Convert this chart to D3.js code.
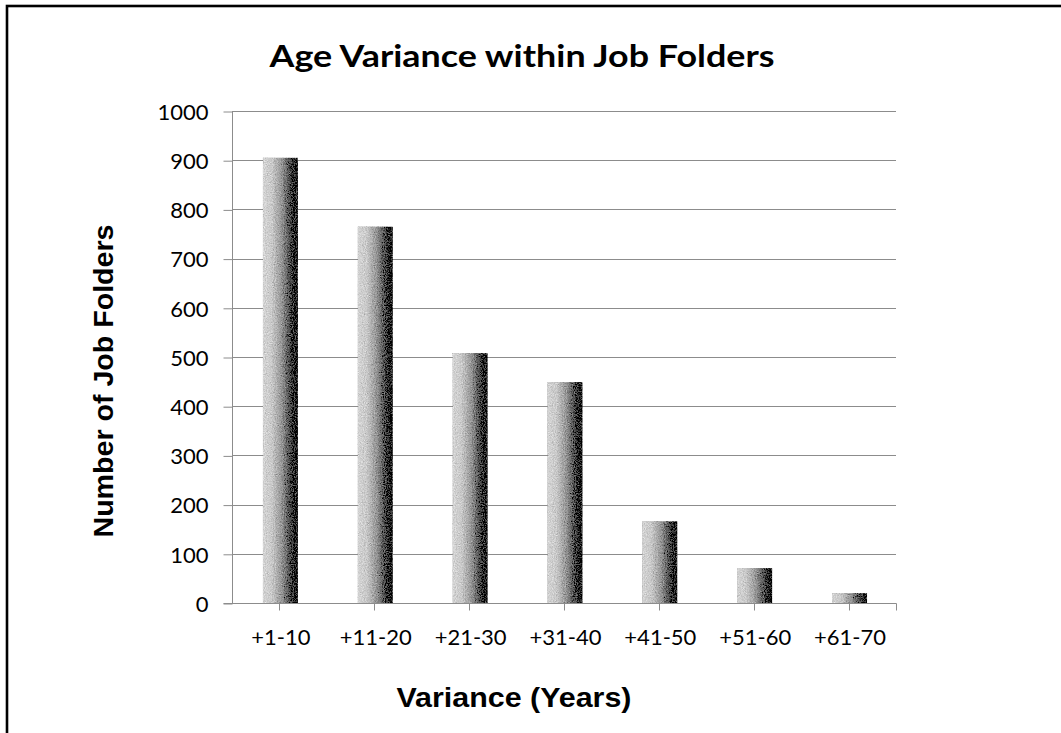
<!DOCTYPE html>
<html>
<head>
<meta charset="utf-8">
<script src="https://cdn.jsdelivr.net/npm/d3@7"></script>
<style>
  html, body { margin: 0; padding: 0; background: #fff; }
  svg { display: block; }
</style>
</head>
<body>
<svg id="chart" width="1061" height="733"></svg>
<script>
// Category labels, counts and axis ticks for the age-variance chart
const categories = ["+1-10", "+11-20", "+21-30", "+31-40", "+41-50", "+51-60", "+61-70"];
const folderCounts = [905, 765, 508, 449, 166, 71, 20];
const yTicks = [0, 100, 200, 300, 400, 500, 600, 700, 800, 900, 1000];

const titleText = "Age Variance within Job Folders";
const xTitleText = "Variance (Years)";
const yTitleText = "Number of Job Folders";

const svg = d3.select("#chart");
const W = 1061, H = 733;
const plot = { left: 232, right: 896, top: 111, bottom: 603 };

svg.append("rect").attr("width", W).attr("height", H).attr("fill", "#fff");

// Outer frame (only the top and left edges fall inside the canvas)
svg.append("rect")
  .attr("x", 7).attr("y", 6)
  .attr("width", W + 40).attr("height", H + 40)
  .attr("fill", "none").attr("stroke", "#000").attr("stroke-width", 2.6);

const x = d3.scaleBand().domain(categories).range([plot.left, plot.right]).padding(0);
const y = d3.scaleLinear().domain([0, 1000]).range([plot.bottom, plot.top]);

// Bar shading: horizontal light-to-black gradient with a grainy texture
const defs = svg.append("defs");
const grad = defs.append("linearGradient").attr("id", "barGrad")
  .attr("x1", 0).attr("x2", 1).attr("y1", 0).attr("y2", 0);
[[0, "#d4d4d4"], [0.25, "#cacaca"], [0.55, "#939393"], [0.78, "#4a4a4a"], [0.92, "#1c1c1c"], [1, "#000"]]
  .forEach(([o, c]) => grad.append("stop").attr("offset", o).attr("stop-color", c));

const grain = defs.append("filter").attr("id", "grain")
  .attr("x", 0).attr("y", 0).attr("width", 1).attr("height", 1);
grain.append("feTurbulence").attr("type", "fractalNoise")
  .attr("baseFrequency", 0.9).attr("numOctaves", 2).attr("seed", 3).attr("result", "noise");
grain.append("feColorMatrix").attr("in", "noise").attr("type", "matrix")
  .attr("values", "0.33 0.33 0.33 0 0  0.33 0.33 0.33 0 0  0.33 0.33 0.33 0 0  0 0 0 0 1")
  .attr("result", "grayNoise");
grain.append("feComposite").attr("in", "SourceGraphic").attr("in2", "grayNoise")
  .attr("operator", "arithmetic").attr("k1", 0).attr("k2", 1).attr("k3", 0.9).attr("k4", -0.45)
  .attr("result", "mixed");
grain.append("feComposite").attr("in", "mixed").attr("in2", "SourceAlpha").attr("operator", "in");

// Horizontal gridlines
svg.append("g").selectAll("line").data(yTicks.filter(d => d > 0)).join("line")
  .attr("x1", plot.left).attr("x2", plot.right)
  .attr("y1", d => Math.round(y(d)) + 0.5).attr("y2", d => Math.round(y(d)) + 0.5)
  .attr("stroke", "#8c8c8c").attr("stroke-width", 1);

// Bars
const barW = 35;
svg.append("g").selectAll("rect").data(folderCounts).join("rect")
  .attr("x", (d, i) => x(categories[i]) + x.bandwidth() / 2 - barW / 2 + 1)
  .attr("y", d => y(d))
  .attr("width", barW)
  .attr("height", d => y(0) - y(d))
  .attr("fill", "url(#barGrad)")
  .attr("filter", "url(#grain)");

// Y axis
const yAxis = d3.axisLeft(y).tickValues(yTicks).tickSize(9).tickPadding(15).tickFormat(d3.format("d"));
const gy = svg.append("g").attr("transform", `translate(${plot.left + 0.5},0.5)`).call(yAxis);
gy.select(".domain").attr("stroke", "#8c8c8c").attr("d", `M0,${plot.top}V${plot.bottom}`);
gy.selectAll(".tick line").attr("stroke", "#8c8c8c");
gy.selectAll(".tick text")
  .attr("font-family", "Lato, 'Open Sans', sans-serif").attr("font-size", 22)
  .attr("fill", "#000").attr("dy", "0.35em");

// X axis: ticks at category centres plus a closing tick at the end
const gx = svg.append("g").attr("transform", `translate(0.5,${plot.bottom + 0.5})`);
gx.append("line").attr("x1", plot.left - 9).attr("x2", plot.right)
  .attr("stroke", "#8c8c8c");
const tickXs = categories.map(c => Math.round(x(c) + x.bandwidth() / 2)).concat([plot.right]);
gx.selectAll("line.tk").data(tickXs).join("line").attr("class", "tk")
  .attr("x1", d => d).attr("x2", d => d).attr("y1", 0).attr("y2", 7)
  .attr("stroke", "#8c8c8c");
gx.selectAll("text").data(categories).join("text")
  .attr("x", c => x(c) + x.bandwidth() / 2 + 1)
  .attr("y", 41)
  .attr("text-anchor", "middle")
  .attr("font-family", "Lato, 'Open Sans', sans-serif").attr("font-size", 22)
  .attr("fill", "#000")
  .text(c => c);

// Title
svg.append("text")
  .attr("x", 522).attr("y", 67)
  .attr("text-anchor", "middle")
  .attr("font-family", "Lato, 'Open Sans', sans-serif").attr("font-weight", 700)
  .attr("font-size", 31)
  .attr("textLength", 505).attr("lengthAdjust", "spacingAndGlyphs")
  .attr("fill", "#000")
  .text(titleText);

// Axis titles
svg.append("text")
  .attr("x", 514).attr("y", 707)
  .attr("text-anchor", "middle")
  .attr("font-family", "'Liberation Sans', Arial, sans-serif").attr("font-weight", 700)
  .attr("font-size", 27)
  .attr("textLength", 235).attr("lengthAdjust", "spacingAndGlyphs")
  .attr("fill", "#000")
  .text(xTitleText);

svg.append("text")
  .attr("transform", "translate(113,381) rotate(-90)")
  .attr("text-anchor", "middle")
  .attr("font-family", "'Liberation Sans', Arial, sans-serif").attr("font-weight", 700)
  .attr("font-size", 27)
  .attr("textLength", 313).attr("lengthAdjust", "spacingAndGlyphs")
  .attr("fill", "#000")
  .text(yTitleText);
</script>
</body>
</html>
